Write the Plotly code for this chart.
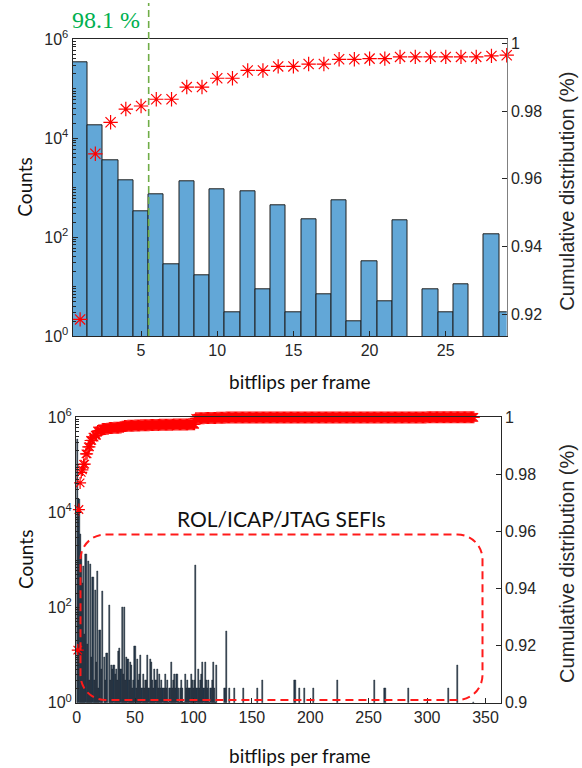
import numpy as np
import plotly.graph_objects as go

W, H = 582, 768

# ---------------- data ----------------
bins_top = list(range(1, 30))
counts_top = [345000, 18500, 3500, 1390, 330, 720, 28, 1350, 17, 920,
              3, 830, 9, 435, 3, 233, 7, 565, 2, 33,
              5, 215, 0, 9, 3, 11, 0, 112, 3]
cum_top = [0.9185, 0.9674, 0.9767, 0.9806, 0.9815, 0.9835, 0.9835, 0.9871, 0.9871, 0.9897,
           0.9897, 0.9920, 0.9920, 0.9932, 0.9932, 0.9939, 0.9939, 0.9953, 0.9953, 0.9955,
           0.9955, 0.9960, 0.9960, 0.9960, 0.9960, 0.9960, 0.9960, 0.9963, 0.9965]

mid_start = 30
counts_mid = [6, 5, 6, 4, 5, 3, 12, 14, 5, 100,
              4, 100, 3, 9, 8, 3, 7, 6, 2, 3,
              15, 2, 8, 3, 4, 10, 2, 4, 2, 3,
              3, 10, 2, 8, 7, 3, 2, 5, 3, 5,
              2, 4, 2, 3, 2, 2, 4, 2, 3, 1,
              2, 7, 2, 3, 4, 2, 4, 2, 1, 2,
              3, 2, 1, 4, 2, 3, 2, 2, 4, 3,
              2, 3, 780, 2, 5, 2, 3, 4, 7, 2,
              7, 3, 2, 3, 1, 2, 3, 7, 2, 1,
              6]
sparse_bins = [127, 128, 131, 135, 143, 155, 159, 187, 191, 195,
               203, 223, 255, 264, 284, 300, 318, 326, 340]
sparse_counts = [2, 32, 2, 2, 2, 2, 3, 3, 2, 2,
                 2, 3, 3, 2, 2, 1, 2, 6, 1]
max_bin = 340

x_ticks_top = [5, 10, 15, 20, 25]
x_ticks_bot = [0, 50, 100, 150, 200, 250, 300, 350]
cum_ticks_top = [0.92, 0.94, 0.96, 0.98, 1.0]
cum_ticks_bot = [0.90, 0.92, 0.94, 0.96, 0.98, 1.0]
log_major = [1, 1e2, 1e4, 1e6]
log_major_text = ["10<sup>0</sup>", "10<sup>2</sup>", "10<sup>4</sup>", "10<sup>6</sup>"]
threshold = 5.5
threshold_label = "98.1 %"
sefi_label = "ROL/ICAP/JTAG SEFIs"

# full histogram for the bottom panel
bins_all = np.arange(1, max_bin + 1)
counts_all = np.zeros(max_bin)
counts_all[:len(counts_top)] = counts_top
counts_all[mid_start - 1:mid_start - 1 + len(counts_mid)] = counts_mid
for b, c in zip(sparse_bins, sparse_counts):
    counts_all[b - 1] = c
cum_all = np.cumsum(counts_all) / counts_all.sum()

# ---------------- layout geometry (pixels) ----------------
def px(x):
    return x / W

def py(y):
    return 1 - y / H

top_x = (72.5, 506.7)
top_y = (39.3, 336.0)
bot_x = (76.0, 500.7)
bot_y = (417.3, 702.7)
top_xrange = [0.5, 29.0]
bot_xrange = [-0.5, 363.0]

dark = "#262626"
tickfont = dict(family="Liberation Sans, Arial, sans-serif", size=16, color=dark)
titlefont = dict(family="Lato, sans-serif", size=19, color="#111111")
minor_vals = [k * 10 ** d for d in range(0, 6) for k in range(2, 10)] + [10, 1e3, 1e5]

fig = go.Figure()

fig.add_trace(go.Bar(x=bins_top, y=counts_top, width=1.0, xaxis="x", yaxis="y",
                     marker=dict(color="#62a7d7", line=dict(color="#1e1e1e", width=1))))
fig.add_trace(go.Scatter(x=bins_top, y=cum_top, mode="markers", xaxis="x", yaxis="y2",
                         cliponaxis=False,
                         marker=dict(symbol="asterisk-open", size=12, color="#ff0000",
                                     line=dict(color="#ff0000", width=1.2))))
fig.add_trace(go.Bar(x=bins_all, y=counts_all, width=1.0, xaxis="x2", yaxis="y3",
                     marker=dict(color="#24364a", line=dict(color="#16222d", width=0.5))))
fig.add_trace(go.Scatter(x=bins_all, y=cum_all, mode="markers", xaxis="x2", yaxis="y4",
                         cliponaxis=False,
                         marker=dict(symbol="asterisk-open", size=10, color="#ff0000",
                                     line=dict(color="#ff0000", width=1.2))))

common_axis = dict(showgrid=False, zeroline=False, showline=True, linecolor=dark,
                   linewidth=1, ticks="inside", tickcolor=dark, ticklen=5,
                   tickfont=tickfont, automargin=False)

log_axis = dict(common_axis, type="log", range=[0, 6], tickmode="array",
                tickvals=log_major, ticktext=log_major_text,
                minor=dict(ticks="inside", ticklen=3, tickcolor=dark,
                           tickmode="array", tickvals=minor_vals, showgrid=False))

fig.update_layout(
    width=W, height=H, margin=dict(l=0, r=0, t=0, b=0),
    paper_bgcolor="white", plot_bgcolor="white", showlegend=False, bargap=0,
    xaxis=dict(common_axis, domain=[px(top_x[0]), px(top_x[1])], range=top_xrange,
               tickmode="array", tickvals=x_ticks_top, mirror=True, anchor="y"),
    yaxis=dict(log_axis, domain=[py(top_y[1]), py(top_y[0])], anchor="x"),
    yaxis2=dict(common_axis, overlaying="y", side="right", anchor="x",
                range=[0.9136, 1.0012], tickmode="array", tickvals=cum_ticks_top,
                ticktext=["0.92", "0.94", "0.96", "0.98", "1"], linecolor="#808080"),
    xaxis2=dict(common_axis, domain=[px(bot_x[0]), px(bot_x[1])], range=bot_xrange,
                tickmode="array", tickvals=x_ticks_bot, mirror=True, anchor="y3"),
    yaxis3=dict(log_axis, domain=[py(bot_y[1]), py(bot_y[0])], anchor="x2"),
    yaxis4=dict(common_axis, overlaying="y3", side="right", anchor="x2",
                range=[0.9, 1.0], tickmode="array", tickvals=cum_ticks_bot,
                ticktext=["0.9", "0.92", "0.94", "0.96", "0.98", "1"]),
)

# threshold line
thr_px = top_x[0] + (threshold - top_xrange[0]) / (top_xrange[1] - top_xrange[0]) * (top_x[1] - top_x[0])
fig.add_shape(type="line", xref="paper", yref="paper", x0=px(thr_px), x1=px(thr_px),
              y0=py(top_y[1]), y1=py(3), line=dict(color="#70ad47", width=1.6, dash="7px,4px"))

# rounded dashed box
L, R, T, B, r = 80.5, 482.5, 534.5, 700.0, 25.0
k = 0.5523 * r
pts = [
    ("M", [(L + r, T)]),
    ("L", [(R - r, T)]),
    ("C", [(R - r + k, T), (R, T + r - k), (R, T + r)]),
    ("L", [(R, B - r)]),
    ("C", [(R, B - r + k), (R - r + k, B), (R - r, B)]),
    ("L", [(L + r, B)]),
    ("C", [(L + r - k, B), (L, B - r + k), (L, B - r)]),
    ("L", [(L, T + r)]),
    ("C", [(L, T + r - k), (L + r - k, T), (L + r, T)]),
]
path = " ".join(cmd + " " + " ".join(f"{px(x):.5f},{py(y):.5f}" for x, y in p) for cmd, p in pts) + " Z"
fig.add_shape(type="path", xref="paper", yref="paper", path=path,
              line=dict(color="#ff1a1a", width=2, dash="8px,5px"))

ann = []
ann.append(dict(text=threshold_label, x=px(106), y=py(20),
                font=dict(family="Liberation Serif, Times New Roman, serif", size=24, color="#00b050")))
ann.append(dict(text=sefi_label, x=px(281), y=py(518),
                font=dict(family="Lato, sans-serif", size=21, color="#111111")))
for cy in [(top_y[0] + top_y[1]) / 2, (bot_y[0] + bot_y[1]) / 2]:
    ann.append(dict(text="Counts", x=px(25), y=py(cy), textangle=-90, font=titlefont))
    ann.append(dict(text="Cumulative distribution (%)", x=px(567), y=py(cy + 4), textangle=-90,
                    font=dict(family="Liberation Sans, Arial, sans-serif", size=20, color=dark)))
ann.append(dict(text="bitflips per frame", x=px(300), y=py(381), font=titlefont))
ann.append(dict(text="bitflips per frame", x=px(300), y=py(755), font=titlefont))
for a in ann:
    a.update(xref="paper", yref="paper", showarrow=False, xanchor="center", yanchor="middle")
fig.update_layout(annotations=ann)

fig.write_html("out.html", config={"displayModeBar": False},
               post_script="document.body.style.margin='0px';document.body.style.overflow='hidden';")
